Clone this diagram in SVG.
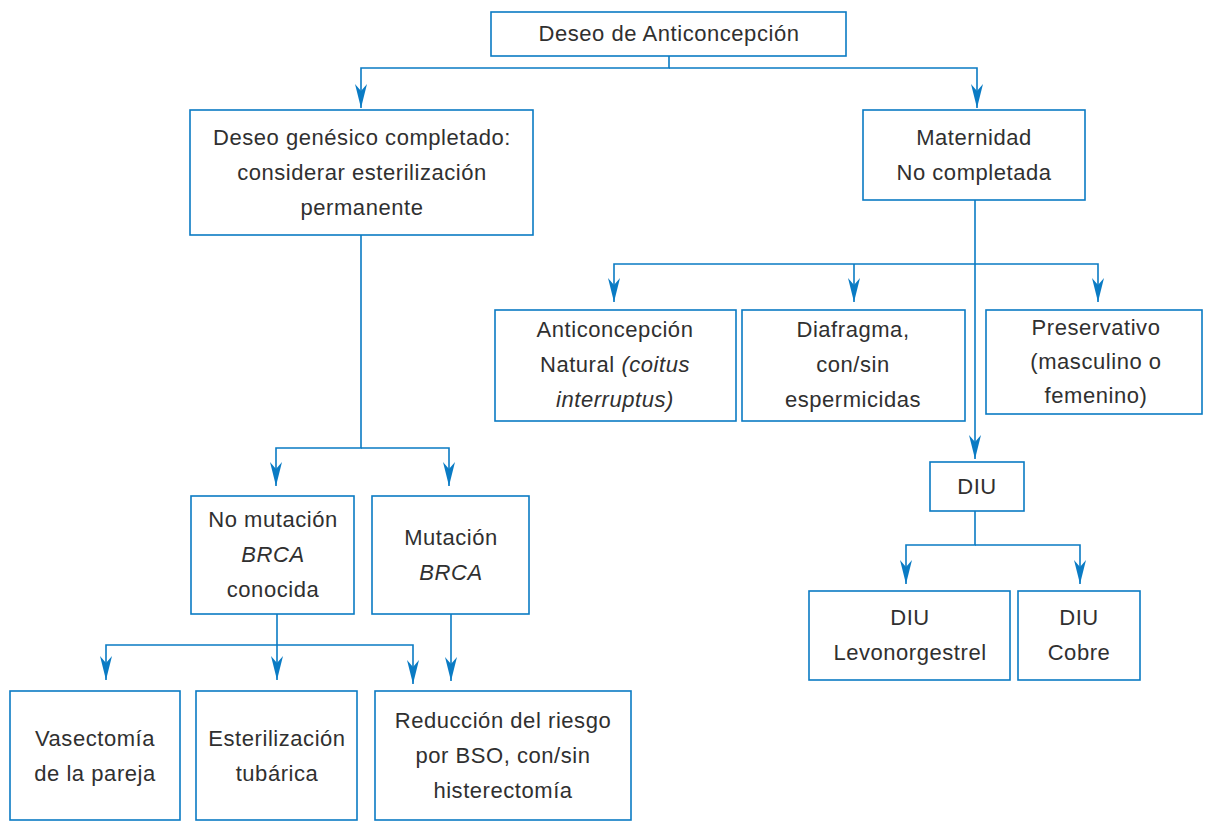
<svg xmlns="http://www.w3.org/2000/svg" width="1208" height="826" viewBox="0 0 1208 826">
<style>
.box{fill:#fff;stroke:#0a7bc4;stroke-width:1.6}
.t{font-family:"Liberation Sans",Arial,sans-serif;font-size:22px;letter-spacing:0.55px;fill:#303030;text-anchor:middle;dominant-baseline:central}
.i{font-style:italic}
.c{fill:none;stroke:#0a7bc4;stroke-width:1.6}
</style>
<defs>
<marker id="ah" markerUnits="userSpaceOnUse" markerWidth="24" markerHeight="14" viewBox="0 0 24 14" refX="24" refY="7" orient="auto">
<path d="M0,1 L24,7 L0,13 L7,7 z" fill="#0a7bc4"/>
</marker>
</defs>
<rect width="1208" height="826" fill="#fff"/>
<g id="connectors" class="c">
<path d="M669,56 V68 H361 V108" marker-end="url(#ah)"/>
<path d="M669,68 H977 V108" marker-end="url(#ah)"/>
<path d="M361,235 V448 H276 V486" marker-end="url(#ah)"/>
<path d="M361,448 H449 V486" marker-end="url(#ah)"/>
<path d="M975,200 V459" marker-end="url(#ah)"/>
<path d="M975,264 H614 V302" marker-end="url(#ah)"/>
<path d="M854,264 V302" marker-end="url(#ah)"/>
<path d="M975,264 H1098 V302" marker-end="url(#ah)"/>
<path d="M975,511 V545 H906 V584" marker-end="url(#ah)"/>
<path d="M975,545 H1080 V584" marker-end="url(#ah)"/>
<path d="M277,614 V680" marker-end="url(#ah)"/>
<path d="M277,645 H106 V680" marker-end="url(#ah)"/>
<path d="M277,645 H413 V684" marker-end="url(#ah)"/>
<path d="M451,614 V681" marker-end="url(#ah)"/>
</g>
<g id="n1"><rect class="box" x="491" y="12" width="355" height="44"/><text class="t" x="669" y="33">Deseo de Anticoncepción</text></g>
<g id="n2"><rect class="box" x="190" y="110" width="343" height="125"/>
<text class="t" x="362" y="137">Deseo genésico completado:</text>
<text class="t" x="362" y="172">considerar esterilización</text>
<text class="t" x="362" y="207">permanente</text></g>
<g id="n3"><rect class="box" x="863" y="110" width="222" height="90"/>
<text class="t" x="974" y="137">Maternidad</text>
<text class="t" x="974" y="172">No completada</text></g>
<g id="n4"><rect class="box" x="495" y="310" width="241" height="111"/>
<text class="t" x="615" y="329">Anticoncepción</text>
<text class="t" x="615" y="364">Natural <tspan class="i">(coitus</tspan></text>
<text class="t i" x="615" y="399">interruptus)</text></g>
<g id="n5"><rect class="box" x="742" y="310" width="223" height="111"/>
<text class="t" x="853" y="329">Diafragma,</text>
<text class="t" x="853" y="364">con/sin</text>
<text class="t" x="853" y="399">espermicidas</text></g>
<g id="n6"><rect class="box" x="986" y="310" width="216" height="104"/>
<text class="t" x="1096" y="327">Preservativo</text>
<text class="t" x="1096" y="361">(masculino o</text>
<text class="t" x="1096" y="395">femenino)</text></g>
<g id="n7"><rect class="box" x="930" y="462" width="94" height="49"/>
<text class="t" x="977" y="486">DIU</text></g>
<g id="n8"><rect class="box" x="809" y="591" width="201" height="89"/>
<text class="t" x="910" y="617">DIU</text>
<text class="t" x="910" y="652">Levonorgestrel</text></g>
<g id="n9"><rect class="box" x="1018" y="591" width="122" height="89"/>
<text class="t" x="1079" y="617">DIU</text>
<text class="t" x="1079" y="652">Cobre</text></g>
<g id="n10"><rect class="box" x="191" y="496" width="163" height="118"/>
<text class="t" x="273" y="519">No mutación</text>
<text class="t i" x="273" y="554">BRCA</text>
<text class="t" x="273" y="589">conocida</text></g>
<g id="n11"><rect class="box" x="372" y="496" width="157" height="118"/>
<text class="t" x="451" y="537">Mutación</text>
<text class="t i" x="451" y="572">BRCA</text></g>
<g id="n12"><rect class="box" x="10" y="691" width="170" height="129"/>
<text class="t" x="95" y="738">Vasectomía</text>
<text class="t" x="95" y="773">de la pareja</text></g>
<g id="n13"><rect class="box" x="196" y="691" width="161" height="129"/>
<text class="t" x="277" y="738">Esterilización</text>
<text class="t" x="277" y="773">tubárica</text></g>
<g id="n14"><rect class="box" x="375" y="691" width="256" height="129"/>
<text class="t" x="503" y="720">Reducción del riesgo</text>
<text class="t" x="503" y="755">por BSO, con/sin</text>
<text class="t" x="503" y="790">histerectomía</text></g>
</svg>
